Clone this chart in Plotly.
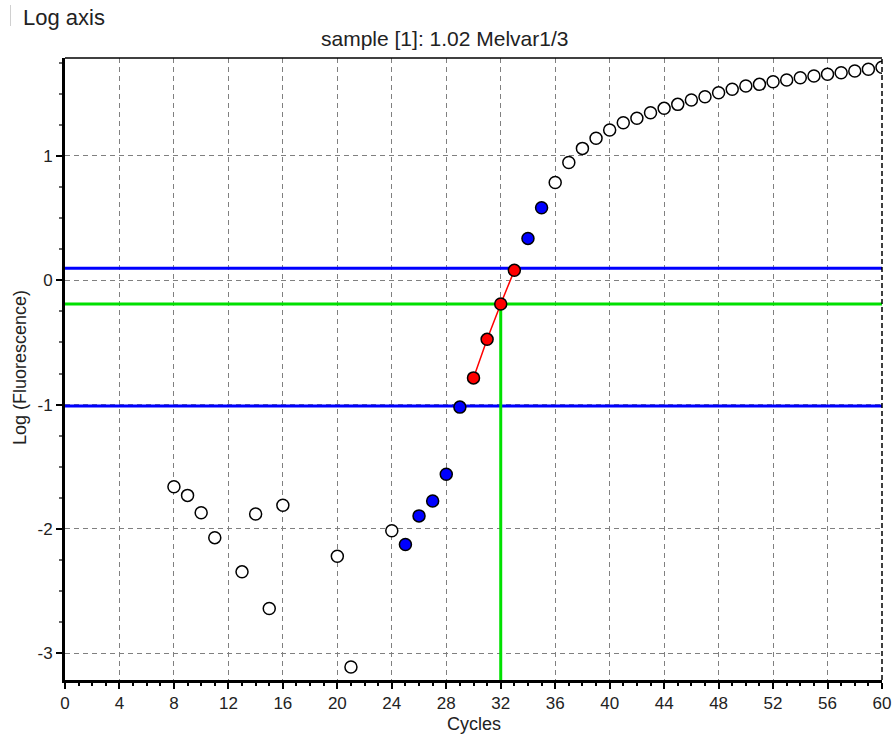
import plotly.graph_objects as go

# ---- data ----
open_cycles = [8, 9, 10, 11, 13, 14, 15, 16, 20, 21, 24,
               36, 37, 38, 39, 40, 41, 42, 43, 44, 45, 46, 47, 48,
               49, 50, 51, 52, 53, 54, 55, 56, 57, 58, 59, 60]
open_values = [-1.66, -1.73, -1.87, -2.07, -2.345, -1.88, -2.64, -1.81, -2.22, -3.11, -2.015,
               0.787, 0.948, 1.061, 1.142, 1.209, 1.267, 1.303, 1.348, 1.383, 1.415, 1.45, 1.477, 1.509,
               1.536, 1.563, 1.576, 1.597, 1.611, 1.629, 1.643, 1.657, 1.67, 1.683, 1.697, 1.713]
blue_cycles = [25, 26, 27, 28, 29, 34, 35]
blue_values = [-2.125, -1.895, -1.775, -1.56, -1.02, 0.337, 0.584]
red_cycles = [30, 31, 32, 33]
red_values = [-0.785, -0.475, -0.19, 0.08]
upper_threshold = 0.097
lower_threshold = -1.011
ct_level = -0.19
ct_cycle = 32.0
x_ticks = list(range(0, 61, 4))
y_ticks = [-3, -2, -1, 0, 1]
y_tick_labels = ["-3", "-2", "-1", "0", "1"]

font = "Liberation Sans, Arial, sans-serif"
# plot area target in page pixels: x 65..882, y 58..680 (body margin removed)
W, H = 893, 737
ML, MR, MT, MB = 65, 11, 58, 57
PW, PH = W - ML - MR, H - MT - MB


def px(x):
    return (x - ML) / PW


def py(y):
    return 1 - (y - MT) / PH


fig = go.Figure()

# threshold lines
fig.add_trace(go.Scatter(x=[0, 60], y=[upper_threshold] * 2, mode="lines",
                         line=dict(color="#0000ff", width=3), hoverinfo="skip"))
fig.add_trace(go.Scatter(x=[0, 60], y=[lower_threshold] * 2, mode="lines",
                         line=dict(color="#0000ff", width=3), hoverinfo="skip"))
fig.add_trace(go.Scatter(x=[0, 60], y=[ct_level] * 2, mode="lines",
                         line=dict(color="#00e000", width=3), hoverinfo="skip"))
fig.add_trace(go.Scatter(x=[ct_cycle, ct_cycle], y=[-3.3, ct_level], mode="lines",
                         line=dict(color="#00e000", width=3), hoverinfo="skip"))

marker_line = dict(color="black", width=1.5)
fig.add_trace(go.Scatter(x=open_cycles, y=open_values, mode="markers",
                         marker=dict(symbol="circle", size=12, color="white", line=marker_line)))
fig.add_trace(go.Scatter(x=blue_cycles, y=blue_values, mode="markers",
                         marker=dict(symbol="circle", size=12, color="#0000ff", line=marker_line)))
fig.add_trace(go.Scatter(x=red_cycles, y=red_values, mode="lines+markers",
                         line=dict(color="#ff0000", width=1.5),
                         marker=dict(symbol="circle", size=12, color="#ff0000", line=marker_line)))

fig.update_layout(
    width=W, height=H,
    margin=dict(l=ML, r=MR, t=MT, b=MB, autoexpand=False),
    paper_bgcolor="white", plot_bgcolor="white",
    showlegend=False,
    font=dict(family=font, size=17, color="#222"),
    xaxis=dict(range=[0, 60], tickvals=x_ticks, ticks="outside", ticklen=6, tickwidth=1.5,
               tickcolor="black", showline=True, linecolor="black", linewidth=3,
               showgrid=True, gridcolor="#808080", griddash="5px,4px", gridwidth=1,
               zeroline=False, tickfont=dict(size=17), automargin=False,
               minor=dict(dtick=1, ticks="outside", ticklen=3, tickcolor="black", showgrid=False)),
    yaxis=dict(range=[-3.215, 1.788], tickvals=y_ticks, ticktext=y_tick_labels,
               ticks="outside", ticklen=6, tickwidth=1.5,
               tickcolor="black", showline=True, linecolor="black", linewidth=3,
               showgrid=True, gridcolor="#808080", griddash="5px,4px", gridwidth=1,
               zeroline=False, tickfont=dict(size=17), automargin=False,
               minor=dict(dtick=0.25, tick0=0, ticks="outside", ticklen=3, tickcolor="#666",
                          showgrid=False)),
    shapes=[
        dict(type="line", xref="paper", yref="paper", x0=0, x1=1, y0=1, y1=1,
             line=dict(color="black", width=1.5)),
        dict(type="line", xref="paper", yref="paper", x0=1, x1=1, y0=0, y1=1,
             line=dict(color="black", width=1.5, dash="5px,3px")),
        dict(type="line", xref="paper", yref="paper",
             x0=px(10.5), x1=px(10.5), y0=py(5), y1=py(26),
             line=dict(color="#d0d0d0", width=1)),
    ],
    annotations=[
        dict(text="Log axis", xref="paper", yref="paper", x=px(21), y=py(17),
             xanchor="left", yanchor="middle", showarrow=False, font=dict(size=22, color="#222")),
        dict(text="sample [1]: 1.02 Melvar1/3", xref="paper", yref="paper",
             x=px(444), y=py(38),
             xanchor="center", yanchor="middle", showarrow=False, font=dict(size=21, color="#222")),
        dict(text="Cycles", xref="paper", yref="paper", x=px(474), y=py(724),
             xanchor="center", yanchor="middle", showarrow=False, font=dict(size=18, color="#222")),
        dict(text="Log (Fluorescence)", xref="paper", yref="paper", x=px(20),
             y=py(368), textangle=-90,
             xanchor="center", yanchor="middle", showarrow=False, font=dict(size=18, color="#222")),
    ],
)

fig.write_html("out.html", config={"displayModeBar": False},
               post_script="document.body.style.margin='0';document.body.style.overflow='hidden';")
